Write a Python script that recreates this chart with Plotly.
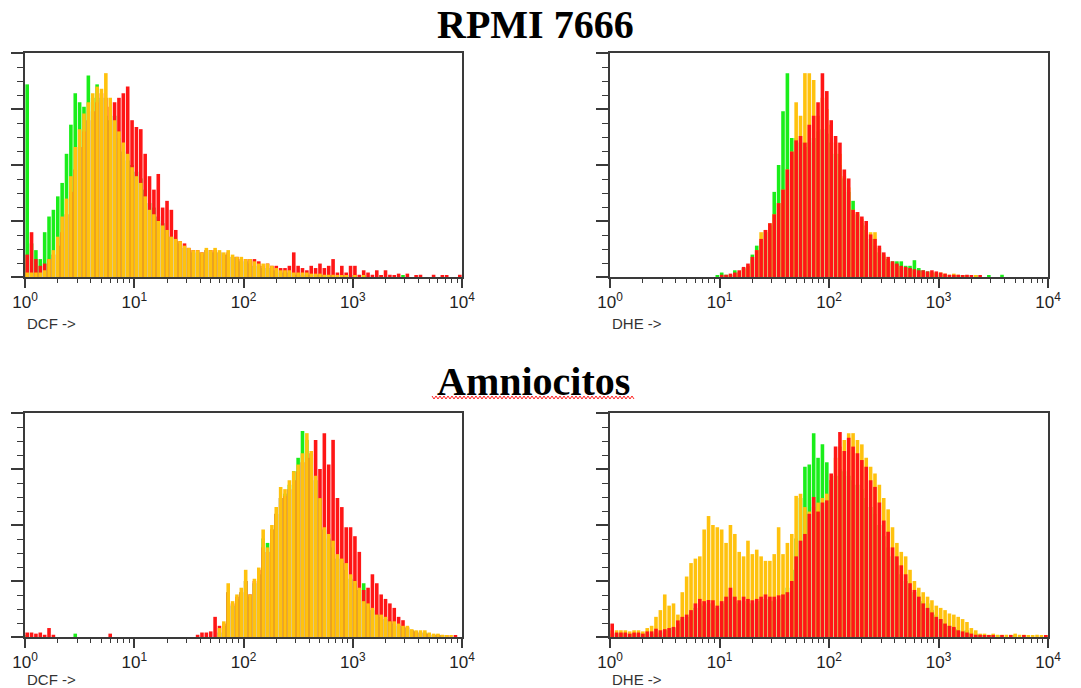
import numpy as np
import plotly.graph_objects as go

W, H = 1081, 688

# 100 channels evenly spaced in decades, covering 10^0 .. 10^4
N_CH = 100
decade = (np.arange(N_CH) + 0.5) * 4 / N_CH

# ---- RPMI 7666, DCF ----
dcf_rpmi_green = [
    86, 15, 12, 8, 20, 27, 30, 36, 42, 55,
    68, 82, 78, 76, 90, 80, 86, 80, 72, 70,
    72, 62, 56, 52, 50, 47, 44, 39, 33, 31,
    27, 24, 21, 18, 16, 15, 13, 12, 11, 11,
    10, 12, 11, 11, 11, 10, 10, 9, 8, 7,
    7, 6, 5, 5, 4, 4, 3, 3, 2, 2,
    2, 1, 1, 1, 1, 1, 1, 0.5, 1, 0.5,
    0.5, 0, 0.5, 0, 0.5, 0, 0, 0.5, 0, 0,
    0, 0.5, 0, 0, 0, 0, 0.5, 0, 0, 0,
    0, 0, 0, 0, 0, 0, 0, 0, 0, 0,
]
dcf_rpmi_red = [
    10, 20, 8, 5, 6, 8, 10, 14, 20, 28,
    38, 48, 58, 65, 70, 74, 78, 82, 80, 76,
    78, 80, 82, 85, 70, 67, 66, 55, 45, 39,
    46, 31, 34, 30, 21, 16, 15, 13, 12, 12,
    11, 12, 12, 12, 11, 10, 11, 9, 9, 8,
    8, 8, 8, 7, 5, 6, 5, 5, 4, 4,
    5, 11, 5, 4, 3, 5, 4, 6, 4, 5,
    8, 2, 5, 2, 5, 5, 1, 3, 2, 1,
    3, 0.5, 3, 1, 0.5, 1.5, 0, 1.5, 0, 0.5,
    1, 0, 0, 1, 0, 0.5, 0.5, 0, 0, 1,
]
dcf_rpmi_orange = [
    2, 2, 2, 2, 3, 8, 12, 18, 27, 35,
    45, 58, 66, 73, 78, 82, 85, 84, 91, 80,
    70, 65, 60, 55, 49, 45, 42, 36, 30, 28,
    25, 23, 21, 18, 17, 16, 14, 13, 12, 12,
    11, 13, 12, 13, 12, 11, 12, 10, 9, 9,
    8, 8, 7, 6, 6, 6, 5, 4, 3, 3,
    3, 2, 2, 2, 2, 1.5, 1.5, 1.5, 1, 1,
    1, 0.5, 0.5, 0.5, 0, 0.5, 0, 0.5, 0, 0,
    0, 0, 0, 0, 0, 0, 0, 0, 0, 0,
    0, 0, 0, 0, 0, 0, 0, 0, 0, 0,
]

# ---- RPMI 7666, DHE ----
dhe_rpmi_green = [
    0, 0, 0, 0, 0, 0, 0, 0, 0, 0,
    0, 0, 0, 0, 0, 0, 0, 0, 0, 0,
    0, 0, 0, 0, 0.5, 2, 1, 1, 3, 2,
    4, 5, 10, 14, 16, 20, 23, 38, 50, 74,
    91, 62, 62, 60, 58, 60, 62, 65, 66, 64,
    60, 55, 50, 44, 38, 34, 28, 24, 21, 17,
    14, 11, 9, 8, 7, 7, 7, 5, 5, 7.5,
    4, 3, 2.5, 2, 1.5, 1, 0.5, 0, 0.5, 0,
    0.5, 0, 0, 0.5, 0, 0, 0.5, 0, 0, 1,
    0, 0, 0, 0, 0, 0, 0, 0, 0, 0,
]
dhe_rpmi_orange = [
    0, 0, 0, 0, 0, 0, 0, 0, 0, 0,
    0, 0, 0, 0, 0, 0, 0, 0, 0, 0,
    0, 0, 0, 0, 0, 0, 0, 0.5, 1, 2,
    3.5, 5, 8, 12, 20, 21, 24, 28, 33, 39,
    48, 56, 78, 72, 91, 91, 88, 72, 80, 75,
    68, 60, 55, 45, 40, 30, 29, 26, 23, 20,
    20, 13, 10, 8, 6, 5, 4, 4, 3, 3,
    2.5, 2, 2, 2, 2, 2, 1.5, 1, 1.5, 1,
    0.5, 0.5, 0, 0.5, 0, 0, 0, 0, 0, 0,
    0, 0, 0, 0, 0, 0, 0, 0, 0, 0,
]
dhe_rpmi_red = [
    0, 0, 0, 0, 0, 0, 0, 0, 0, 0,
    0, 0, 0, 0, 0, 0, 0, 0, 0, 0,
    0, 0, 0, 0, 0, 1, 1, 1.5, 2, 3,
    4.5, 6, 9, 12, 17, 21, 24, 28, 33, 39,
    48, 56, 61, 63, 60, 68, 72, 78, 91, 83,
    70, 63, 60, 48, 44, 30, 29, 27, 25, 19,
    17, 14, 11, 9, 7, 6, 5, 4.5, 4, 3.5,
    3, 3, 2.5, 3, 2.5, 2, 1.5, 1, 1, 1,
    0.5, 1, 0.5, 0, 0.5, 0, 0, 0, 0, 0,
    0, 0, 0, 0, 0, 0, 0, 0, 0, 0,
]

# ---- Amniocitos, DCF ----
dcf_amnio_green = [
    0.5, 0, 0, 0, 0, 0, 0, 0, 0, 0,
    0, 1.5, 0, 0, 0, 0, 0, 0, 0, 0,
    0, 0, 0, 0, 0, 0, 0, 0, 0, 0,
    0, 0, 0, 0, 0, 0, 0, 0, 0, 0,
    0, 0, 0, 0, 2, 5, 20, 14, 17, 20,
    25, 18, 24, 28, 44, 42, 48, 55, 62, 64,
    68, 74, 80, 92, 88, 80, 70, 62, 48, 44,
    40, 35, 33, 30, 26, 24, 21, 24, 14, 12,
    10, 9, 8, 7, 6, 5, 4.5, 4, 3, 2.5,
    2, 2, 1.5, 1, 1, 0.5, 0, 0, 0, 0,
]
dcf_amnio_red = [
    2, 2, 1.5, 2, 1, 4, 1, 0, 0, 0,
    0, 0, 0, 0, 0, 0, 0, 0, 0, 1.5,
    0, 0, 0, 0, 0, 0, 0, 0, 0, 0,
    0, 0, 0, 0, 0, 0, 0, 0, 0, 1,
    2, 2, 2.5, 9, 5, 6, 20, 15, 18, 20,
    25, 19, 25, 30, 40, 38, 48, 55, 62, 63,
    66, 70, 74, 78, 80, 82, 88, 75, 91, 77,
    88, 62, 58, 49, 49, 45, 38, 21, 22, 28,
    24, 19, 17, 15, 13, 9, 7.5, 4.5, 3, 2.5,
    2, 1.5, 1.5, 1, 1, 0.5, 0.5, 0, 0.5, 0,
]
dcf_amnio_orange = [
    0, 0, 0, 0, 0, 0, 0, 0, 0, 0,
    0, 0, 0, 0, 0, 0, 0, 0, 0, 0,
    0, 0, 0, 0, 0, 0, 0, 0, 0, 0,
    0, 0, 0, 0, 0, 0, 0, 0, 0, 0,
    0, 0, 0, 0, 4, 7, 24, 16, 19, 22,
    30, 19, 26, 31, 48, 40, 50, 58, 67, 66,
    70, 74, 77, 82, 91, 83, 72, 62, 49, 46,
    43, 37, 35, 33, 28, 25, 22, 16, 15, 13,
    10, 10, 9, 7, 7, 6, 5, 5, 3.5, 3,
    3, 3, 2, 1.5, 1.5, 1, 0.5, 0.5, 0, 0,
]

# ---- Amniocitos, DHE ----
dhe_amnio_green = [
    1.5, 1.5, 1.5, 1.5, 1.5, 1.5, 1.5, 1.5, 1.5, 1.5,
    2, 2, 3, 3, 4, 6, 8, 9, 11, 13,
    15, 14, 15, 15, 13, 15, 16, 18, 16, 15,
    16, 15, 15, 16, 16, 17, 16, 16, 17, 19,
    22, 30, 44, 62, 76, 77, 91, 80, 86, 78,
    70, 72, 75, 74, 72, 70, 68, 66, 62, 58,
    55, 50, 45, 40, 36, 32, 28, 25, 22, 20,
    18, 16, 15, 12, 10, 8, 6, 5, 4, 3.5,
    3, 3, 2, 1.5, 1, 1, 0.5, 1, 0.5, 0,
    0, 0, 0.5, 0, 0, 0, 0, 0, 0, 0,
]
dhe_amnio_orange = [
    3, 3, 3, 3, 2.5, 3, 3, 2.5, 4, 5,
    9, 12, 19, 14, 15, 10, 20, 27, 33, 35,
    36, 48, 54, 50, 49, 48, 42, 50, 46, 38,
    36, 43, 37, 39, 36, 34, 34, 37, 49, 37,
    42, 46, 63, 64, 58, 56, 58, 60, 62, 64,
    70, 80, 85, 88, 91, 91, 88, 86, 80, 76,
    73, 68, 62, 57, 49, 42, 38, 36, 30, 25,
    22, 20, 18, 16.4, 14, 13, 12, 10.5, 10, 9,
    8, 6.7, 4, 3, 1.5, 1.5, 1, 1.5, 1, 1,
    1, 1, 1.5, 1, 1, 0.5, 0.5, 1, 0.5, 0.5,
]
dhe_amnio_red = [
    6, 2, 2, 2, 1.5, 2, 2, 1.5, 2.5, 2.5,
    3.7, 3, 3.5, 4, 4.5, 7.4, 9, 10, 12, 15,
    17, 16, 16.5, 16.4, 14, 16, 18, 22, 18, 16.4,
    18, 17, 16.4, 17, 18, 19, 18, 18, 18.6, 19,
    20, 25, 36, 43, 46, 55, 62.5, 56, 60, 61,
    73, 85, 91.5, 83, 89, 85, 82, 79, 76, 70,
    67, 60, 52, 47, 40, 36, 32, 28, 24, 21,
    18, 15, 13, 11, 9, 8, 6, 5, 4.5, 3,
    2.5, 2, 1.5, 1, 1, 0.7, 0.5, 0.5, 0, 0.5,
    0, 0.5, 0, 0, 0.5, 0, 0, 0, 0, 0.5,
]

GREEN = "#1aee1a"
RED = "#ff1616"
ORANGE = "#ffc20e"

# decade axis: ticks at 10^0 .. 10^4, minor ticks at 2..9 of each decade
x_tick_vals = [0, 1, 2, 3, 4]
x_tick_text = ["10<sup>%d</sup>" % k for k in x_tick_vals]
x_minor_vals = [k + np.log10(m) for k in range(4) for m in range(2, 10)]
y_tick_vals = [0, 25, 50, 75, 100]
y_minor_vals = [k * 6.25 for k in range(17) if k % 4]


def px_x(x):
    return x / W


def px_y(y):
    return 1 - y / H


# frame boxes in screen pixels: (left, right, top, bottom)
boxes = [(25, 462, 53, 277), (610, 1048, 53, 277),
         (25, 462, 413, 637), (610, 1048, 413, 637)]
label_rows = [323, 323, 679, 679]

# bottom-to-top drawing order of the three histograms in each panel
panels = [
    ("DCF ->", [(dcf_rpmi_green, GREEN), (dcf_rpmi_red, RED), (dcf_rpmi_orange, ORANGE)]),
    ("DHE ->", [(dhe_rpmi_green, GREEN), (dhe_rpmi_orange, ORANGE), (dhe_rpmi_red, RED)]),
    ("DCF ->", [(dcf_amnio_green, GREEN), (dcf_amnio_red, RED), (dcf_amnio_orange, ORANGE)]),
    ("DHE ->", [(dhe_amnio_green, GREEN), (dhe_amnio_orange, ORANGE), (dhe_amnio_red, RED)]),
]

fig = go.Figure()
annotations = []
axis_color = "#3a3a3a"

for k, ((label, layers), (l, r, t, b), row) in enumerate(zip(panels, boxes, label_rows), start=1):
    xa = "x" if k == 1 else "x%d" % k
    ya = "y" if k == 1 else "y%d" % k
    for values, color in layers:
        fig.add_trace(go.Bar(
            x=decade, y=values, xaxis=xa, yaxis=ya,
            marker=dict(color=color, line=dict(width=0)),
            showlegend=False, hoverinfo="skip",
        ))
    sfx = "" if k == 1 else str(k)
    fig.layout["xaxis" + sfx] = dict(
        range=[0, 4], domain=[px_x(l), px_x(r)], anchor=ya, automargin=False,
        showline=True, mirror=True, linecolor=axis_color, linewidth=2,
        ticks="outside", ticklen=9, tickwidth=1.5, tickcolor=axis_color,
        tickmode="array", tickvals=x_tick_vals, ticktext=x_tick_text,
        tickfont=dict(family="Liberation Sans, Arial", size=17, color="#222"),
        minor=dict(tickmode="array", tickvals=x_minor_vals, ticks="outside",
                   ticklen=4, tickwidth=1, tickcolor=axis_color, showgrid=False),
        showgrid=False, zeroline=False, fixedrange=True,
    )
    fig.layout["yaxis" + sfx] = dict(
        range=[0, 100], domain=[px_y(b), px_y(t)], anchor=xa, automargin=False,
        showline=True, mirror=True, linecolor=axis_color, linewidth=2,
        ticks="outside", ticklen=12, tickwidth=1.5, tickcolor=axis_color,
        tickmode="array", tickvals=y_tick_vals, showticklabels=False,
        minor=dict(tickmode="array", tickvals=y_minor_vals, ticks="outside",
                   ticklen=6, tickwidth=1, tickcolor=axis_color, showgrid=False),
        showgrid=False, zeroline=False, fixedrange=True,
    )
    annotations.append(dict(
        text=label, xref="paper", yref="paper", x=px_x(l), y=px_y(row),
        xanchor="left", yanchor="middle", showarrow=False,
        font=dict(family="Liberation Sans, Arial", size=15, color="#333"),
    ))

title_font = dict(family="Liberation Serif, Times New Roman", size=40, color="black")
annotations.append(dict(text="<b>RPMI 7666</b>", xref="paper", yref="paper",
                        x=px_x(535), y=px_y(25), xanchor="center", yanchor="middle",
                        showarrow=False, font=title_font))
annotations.append(dict(text="<b>Amniocitos</b>", xref="paper", yref="paper",
                        x=px_x(533), y=px_y(381), xanchor="center", yanchor="middle",
                        showarrow=False, font=title_font))

# wavy spell-check underline beneath "Amniocitos"
pts = []
for i, xp in enumerate(range(432, 636, 2)):
    yp = 396 if i % 2 == 0 else 399
    pts.append("%s%.5f,%.5f" % ("M" if i == 0 else "L", px_x(xp), px_y(yp)))
squiggle = dict(type="path", xref="paper", yref="paper", path=" ".join(pts),
                line=dict(color="#ff2020", width=1))

fig.update_layout(
    width=W, height=H, margin=dict(l=0, r=0, t=0, b=0, autoexpand=False),
    paper_bgcolor="white", plot_bgcolor="white",
    barmode="overlay", bargap=0.18,
    annotations=annotations, shapes=[squiggle],
)

fig.write_html("out.html")
